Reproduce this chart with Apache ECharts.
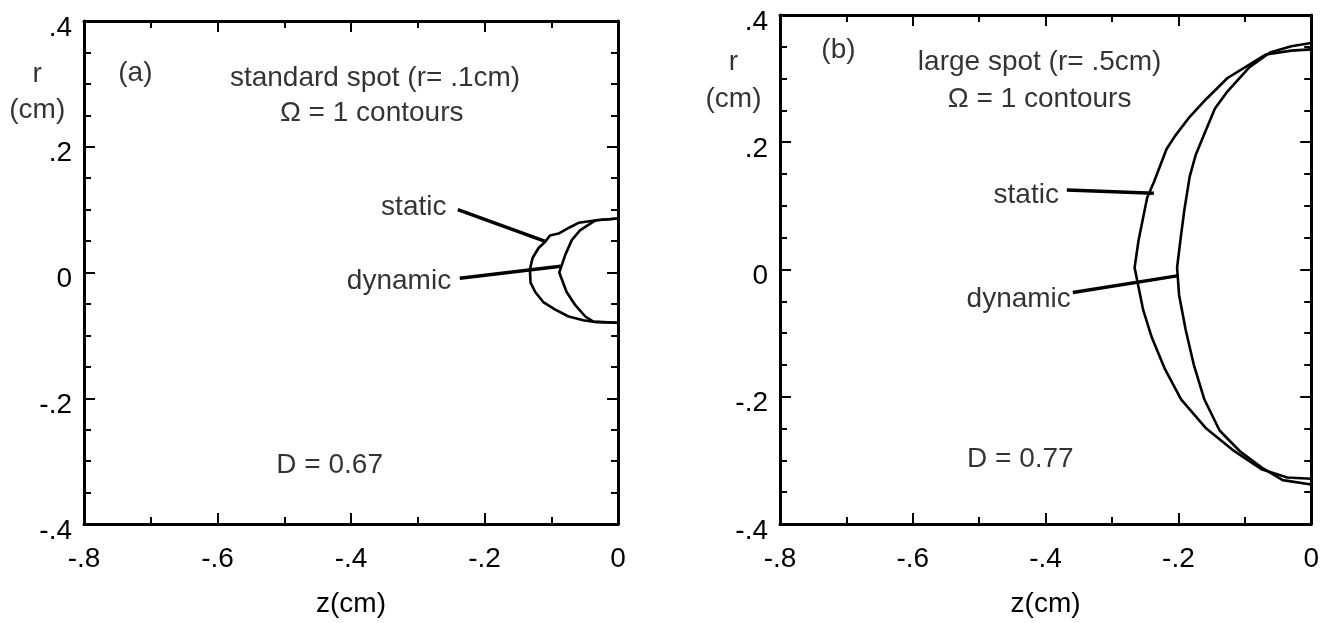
<!DOCTYPE html>
<html>
<head>
<meta charset="utf-8">
<script src="https://cdn.jsdelivr.net/npm/echarts@6/dist/echarts.min.js"></script>
<style>
  body { margin: 0; background: #fff; }
  #chart { width: 1322px; height: 623px; }
</style>
</head>
<body>
<div id="chart"></div>
<script>
// panel (a): standard spot, [z, r] in cm
const staticA = [
  [0, 0.086], [-0.032, 0.083], [-0.059, 0.079], [-0.072, 0.072], [-0.089, 0.062],
  [-0.102, 0.059], [-0.109, 0.049], [-0.119, 0.039], [-0.128, 0.023], [-0.132, 0.005],
  [-0.131, -0.016], [-0.124, -0.031], [-0.112, -0.047], [-0.094, -0.059], [-0.074, -0.070],
  [-0.052, -0.076], [-0.032, -0.079], [0, -0.080]
];
const dynamicA = [
  [0, 0.086], [-0.034, 0.083], [-0.057, 0.067], [-0.069, 0.052], [-0.079, 0.028],
  [-0.088, 0.000], [-0.077, -0.031], [-0.064, -0.052], [-0.049, -0.070], [-0.037, -0.078],
  [0, -0.080]
];
// panel (b): large spot
const staticB = [
  [0, 0.346], [-0.030, 0.344], [-0.068, 0.338], [-0.087, 0.326], [-0.126, 0.301],
  [-0.158, 0.268], [-0.183, 0.240], [-0.205, 0.210], [-0.218, 0.189], [-0.237, 0.137],
  [-0.247, 0.113], [-0.253, 0.082], [-0.260, 0.046], [-0.266, 0.003], [-0.260, -0.028],
  [-0.253, -0.064], [-0.240, -0.107], [-0.221, -0.155], [-0.196, -0.204], [-0.158, -0.250],
  [-0.119, -0.283], [-0.075, -0.314], [-0.036, -0.327], [0, -0.329]
];
const dynamicB = [
  [0, 0.356], [-0.030, 0.351], [-0.062, 0.341], [-0.094, 0.317], [-0.126, 0.280],
  [-0.145, 0.253], [-0.161, 0.213], [-0.174, 0.180], [-0.183, 0.146], [-0.191, 0.094],
  [-0.197, 0.046], [-0.202, 0.003], [-0.199, -0.040], [-0.189, -0.095], [-0.177, -0.149],
  [-0.161, -0.204], [-0.138, -0.253], [-0.107, -0.286], [-0.075, -0.311], [-0.043, -0.331],
  [0, -0.338]
];
// leader lines from labels to contours
const leadersA = [
  [[-0.24, 0.10], [-0.11, 0.05]],
  [[-0.237, -0.009], [-0.086, 0.010]]
];
const leadersB = [
  [[-0.368, 0.125], [-0.237, 0.120]],
  [[-0.359, -0.036], [-0.202, -0.010]]
];
// annotations: [z, r, text, align]
const notesA = [
  [-0.723, 0.317, '(a)', 'center'],
  [-0.364, 0.309, 'standard spot (r= .1cm)', 'center'],
  [-0.369, 0.253, 'Ω = 1 contours', 'center'],
  [-0.257, 0.104, 'static', 'right'],
  [-0.250, -0.014, 'dynamic', 'right'],
  [-0.432, -0.306, 'D = 0.67', 'center'],
  [-0.87, 0.315, 'r', 'center'],
  [-0.87, 0.258, '(cm)', 'center']
];
const notesB = [
  [-0.712, 0.344, '(b)', 'center'],
  [-0.409, 0.326, 'large spot (r= .5cm)', 'center'],
  [-0.409, 0.268, 'Ω = 1 contours', 'center'],
  [-0.380, 0.116, 'static', 'right'],
  [-0.362, -0.047, 'dynamic', 'right'],
  [-0.438, -0.299, 'D = 0.77', 'center'],
  [-0.87, 0.325, 'r', 'center'],
  [-0.87, 0.268, '(cm)', 'center']
];

const FONT = 'Liberation Sans, Arial, Helvetica, sans-serif';
const INK = '#000';
const FS = 28;

// .2 style tick text
function fmt(v) {
  const t = Math.round(v * 10) / 10;
  if (t === 0) return '0';
  return String(t).replace('0.', '.');
}

function xAxes(gi) {
  const base = {
    gridIndex: gi, type: 'value', min: -0.8, max: 0, interval: 0.2,
    splitLine: { show: false },
    axisLine: { onZero: false, lineStyle: { color: INK, width: 3 } },
    axisTick: { inside: true, length: 11, lineStyle: { color: INK, width: 2 } },
    minorTick: { show: true, splitNumber: 2, length: 7, lineStyle: { color: INK, width: 2 } }
  };
  return [
    Object.assign({}, base, {
      position: 'bottom', name: 'z(cm)', nameLocation: 'middle', nameGap: 66,
      nameTextStyle: { fontFamily: FONT, fontSize: FS, color: INK },
      axisLabel: { margin: 21, fontFamily: FONT, fontSize: FS, color: INK, formatter: fmt }
    }),
    Object.assign({}, base, { position: 'top', axisLabel: { show: false } })
  ];
}

function yAxes(gi) {
  const base = {
    gridIndex: gi, type: 'value', min: -0.4, max: 0.4, interval: 0.2,
    splitLine: { show: false },
    axisLine: { onZero: false, lineStyle: { color: INK, width: 3 } },
    axisTick: { inside: true, length: 11, lineStyle: { color: INK, width: 2 } },
    minorTick: { show: true, splitNumber: 4, length: 7, lineStyle: { color: INK, width: 2 } }
  };
  return [
    Object.assign({}, base, {
      position: 'left',
      axisLabel: { margin: 12, fontFamily: FONT, fontSize: FS, color: INK,
        verticalAlign: 'top', lineHeight: 14, formatter: fmt }
    }),
    Object.assign({}, base, { position: 'right', axisLabel: { show: false } })
  ];
}

function curve(data, gi, w) {
  return {
    type: 'line', data: data, xAxisIndex: gi * 2, yAxisIndex: gi * 2,
    showSymbol: false, smooth: false, silent: true, clip: false,
    lineStyle: { color: INK, width: w }
  };
}

function notes(list, gi) {
  return {
    type: 'scatter', xAxisIndex: gi * 2, yAxisIndex: gi * 2,
    symbolSize: 0, silent: true, clip: false,
    data: list.map(n => ({ value: [n[0], n[1]], name: n[2],
      label: { align: n[3] } })),
    label: {
      show: true, position: 'inside', formatter: p => p.name,
      fontFamily: FONT, fontSize: FS, color: INK, verticalAlign: 'middle'
    }
  };
}

const chart = echarts.init(document.getElementById('chart'));
const series = [];
[[staticA, dynamicA, leadersA, notesA], [staticB, dynamicB, leadersB, notesB]].forEach((p, gi) => {
  series.push(curve(p[0], gi, 2.6));
  series.push(curve(p[1], gi, 2.6));
  p[2].forEach(l => series.push(curve(l, gi, 3.5)));
  series.push(notes(p[3], gi));
});

chart.setOption({
  backgroundColor: '#fff',
  animation: false,
  grid: [
    { left: 84, top: 21, width: 534, height: 520 },
    { left: 780, top: 15, width: 532, height: 521 }
  ],
  xAxis: xAxes(0).concat(xAxes(1)),
  yAxis: yAxes(0).concat(yAxes(1)),
  series: series
});
</script>
</body>
</html>
